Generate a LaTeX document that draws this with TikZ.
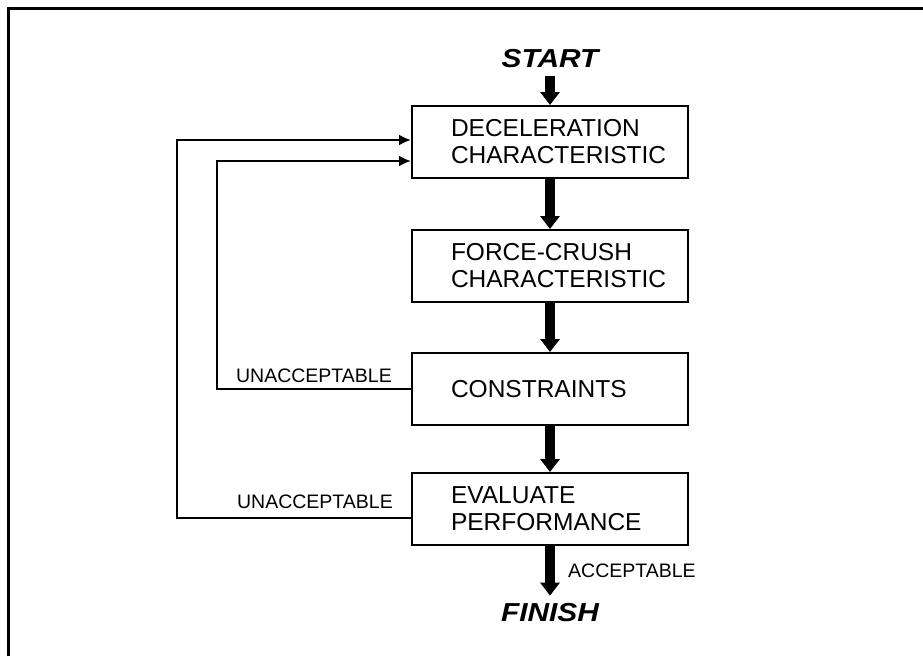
\documentclass[tikz,border=0pt]{standalone}
\usepackage{fontspec}
\setmainfont{Liberation Sans}
\newfontfamily\termfont[FakeStretch=1.15]{Liberation Sans}
\usepackage{tikz}
\usetikzlibrary{arrows.meta}
\usetikzlibrary{positioning}
\usetikzlibrary{calc}
\tikzstyle{stepbox}=[rectangle,draw,line width=2pt,text width=198pt,inner xsep=39pt,minimum height=72pt,align=flush left,font=\fontsize{24.5}{27}\selectfont]
\tikzstyle{terminal}=[font=\termfont\fontsize{26}{26}\selectfont\bfseries\itshape,inner ysep=8pt]
\tikzstyle{flow} = [draw,line width=10pt,-{Triangle[length=13pt,width=19pt]}]
\tikzstyle{loopline} = [draw,line width=2.7pt,-{Latex[length=12pt,width=11pt]}]
\tikzstyle{note} = [font=\fontsize{19.5}{20}\selectfont,inner sep=0pt]

\begin{document}
\begin{tikzpicture}[x=1pt,y=-1pt]

  \useasboundingbox (0,0) rectangle (923,656);
  \draw[line width=3pt] (8,656) -- (8,8) -- (923,8);

  \def\cx{550};

   \node[terminal] (start) at (\cx, 59) {START};
   \node[terminal] (finish) at (\cx, 613) {FINISH};

   \foreach \y/\name/\label in {142/decel/{DECELERATION\\CHARACTERISTIC}, 266/crush/{FORCE-CRUSH\\CHARACTERISTIC}, 389/limits/{CONSTRAINTS}, 509/eval/{EVALUATE\\PERFORMANCE}}
          \node[stepbox] (\name) at (\cx, \y) {\label};

  % main line of steps
  \foreach \source/ \dest in {start/decel, decel/crush, crush/limits, limits/eval, eval/finish}
         \path[flow] (\source) -- (\dest);

  \node[note, anchor=base west] (ok) at (568, 577) {ACCEPTABLE};

  % the two ways back to the start
  \path[loopline] (limits.west) -- ++(-194,0) |- ([yshift=-19pt]decel.west);
  \path[loopline] ([yshift=-9pt]eval.west) -- ++(-234,0) |- ([yshift=2pt]decel.west);

  \node[note, anchor=base east] (bad1) at ([xshift=-19pt, yshift=7pt]limits.west) {UNACCEPTABLE};
  \node[note, anchor=base east] (bad2) at ([xshift=-18pt, yshift=1pt]eval.west) {UNACCEPTABLE};

   \end{tikzpicture}
\end{document}
